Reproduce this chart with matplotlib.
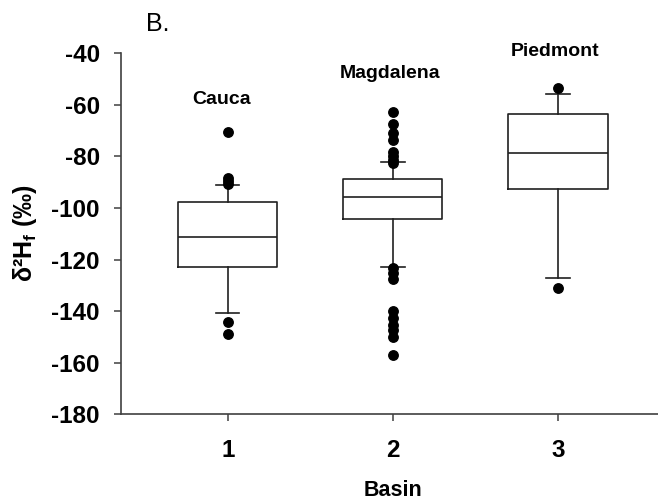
import matplotlib
matplotlib.use("Agg")
import matplotlib.pyplot as plt

plt.rcParams['font.family'] = ['Liberation Sans', 'DejaVu Sans']
plt.rcParams['mathtext.fontset'] = 'custom'
plt.rcParams['mathtext.rm'] = 'Liberation Sans'
plt.rcParams['mathtext.bf'] = 'Liberation Sans:bold'
plt.rcParams['axes.unicode_minus'] = False

# data (delta 2H values, per mil)
basins = [1, 2, 3]
basin_names = ["Cauca", "Magdalena", "Piedmont"]
q1 = [-122.8, -104.4, -92.6]
medians = [-111.2, -95.6, -78.6]
q3 = [-97.8, -88.7, -63.6]
whisker_low = [-140.8, -122.8, -127.0]
whisker_high = [-91.2, -82.0, -55.9]
fliers_cauca = [-70.7, -88.5, -89.5, -90.5, -144.1, -148.9]
fliers_magdalena = [-62.6, -67.5, -71.0, -73.6, -78.1, -80.0, -81.3, -82.5,
                    -123.2, -125.2, -127.7, -140.0, -142.6, -145.2, -147.2,
                    -150.0, -156.8]
fliers_piedmont = [-53.6, -131.0]
y_ticks = [-40, -60, -80, -100, -120, -140, -160, -180]

fliers = [fliers_cauca, fliers_magdalena, fliers_piedmont]
stats = []
for i in range(len(basins)):
    stats.append({
        'med': medians[i], 'q1': q1[i], 'q3': q3[i],
        'whislo': whisker_low[i], 'whishi': whisker_high[i],
        'fliers': fliers[i],
    })

fig = plt.figure(figsize=(6.58, 5.01), dpi=100)
ax = fig.add_axes([0.1834, 0.173, 0.8166, 0.7206])

line = dict(color='#202020', linewidth=1.2)
ax.bxp(stats, positions=basins, widths=0.6, capwidths=0.14,
       boxprops=line, whiskerprops=line, capprops=line,
       medianprops=line,
       flierprops=dict(marker='o', markerfacecolor='black',
                       markeredgecolor='black', markersize=6.8))

ax.set_xlim(0.35, 3.606)
ax.set_ylim(-180, -40)
ax.set_yticks(y_ticks)
ax.set_xticks(basins)
ax.set_xticklabels([str(b) for b in basins])

for s in ['top', 'right']:
    ax.spines[s].set_visible(False)
for s in ['left', 'bottom']:
    ax.spines[s].set_color('#404040')
    ax.spines[s].set_linewidth(1.2)

ax.tick_params(axis='y', direction='out', length=5, width=1.1,
               color='#404040', pad=10, labelsize=17.5)
ax.tick_params(axis='x', direction='out', length=5, width=1.1,
               color='#404040', pad=13, labelsize=17.5)
for lab in ax.get_xticklabels() + ax.get_yticklabels():
    lab.set_fontweight('bold')

# basin names above the boxes
label_x = [0.96, 1.98, 2.98]
label_y = [-58.1, -48.0, -39.4]
for name, x, y in zip(basin_names, label_x, label_y):
    ax.text(x, y, name, ha='center', va='center', fontsize=14,
            fontweight='bold', clip_on=False)

fig.text(25 / 658, 1 - 233 / 501, r'δ²H$_{\mathbf{f}}$ (‰)', rotation=90,
         ha='center', va='center', fontsize=18, fontweight='bold')
fig.text(393 / 658, 1 - 490 / 501, 'Basin', ha='center', va='center',
         fontsize=15.5, fontweight='bold')
fig.text(158 / 658, 1 - 24 / 501, 'B.', ha='center', va='center',
         fontsize=18)

plt.savefig('out.png', dpi=100)
